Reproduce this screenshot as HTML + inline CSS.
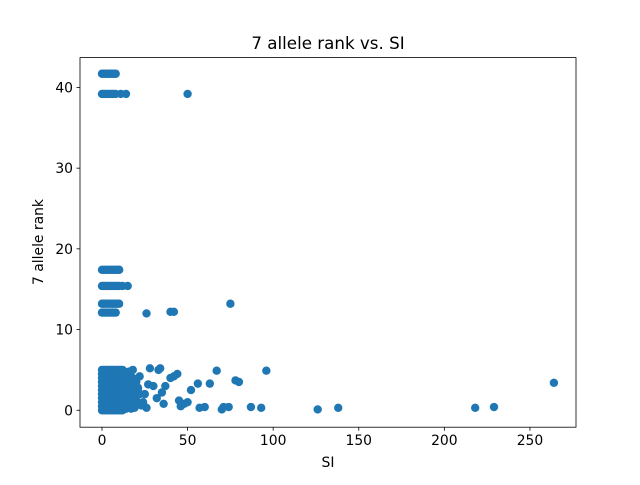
<!DOCTYPE html>
<html><head><meta charset="utf-8"><style>
body{margin:0;background:#fff;font-family:"Liberation Sans","DejaVu Sans",sans-serif}
svg text{font-family:"DejaVu Sans","Liberation Sans",sans-serif;font-size:13.9px;fill:#000}
</style></head><body>
<svg id="chart" width="640" height="480" xmlns="http://www.w3.org/2000/svg">
<rect width="640" height="480" fill="#fff"/>
<g id="pts"></g>
<rect x="80" y="57.6" width="496" height="369.6" fill="none" stroke="#000" stroke-width="0.8"/>
<g id="xt"></g>
<g id="yt"></g>
<text x="328" y="49" text-anchor="middle" style="font-size:16.7px">7 allele rank vs. SI</text>
<text x="328" y="467" text-anchor="middle">SI</text>
<text transform="translate(43,242) rotate(-90)" text-anchor="middle">7 allele rank</text>
</svg>
<script>
const xTicks=[0,50,100,150,200,250];
const yTicks=[0,10,20,30,40];
const topXs=[0,1,2,3,4,5,6,7,8,9,10];
const topYs=[41.7,39.2,17.4,15.4,13.2,12.1];
const extraX=[11,14,50,10,12,15,75,26,40,42,26,27,28,30,32,33,34,35,36,37,40,42,44,45,46,48,50,52,56,57,60,63,67,70,71,74,78,80,87,93,96,126,138,218,229,264,14,16,18,20,22,24,15,17,19,21,23,25,13,18,22,13,14,15,16,17,13,14,15,16,13,14,15,16,17,18,19,20,21,14,16,18,20];
const extraY=[39.2,39.2,39.2,17.4,15.4,15.4,13.2,12.0,12.2,12.2,0.3,3.2,5.2,3.0,1.5,5.0,5.2,2.2,0.8,3.0,4.0,4.2,4.5,1.2,0.5,0.8,1.0,2.5,3.3,0.3,0.4,3.3,4.9,0.1,0.4,0.4,3.7,3.5,0.4,0.3,4.9,0.1,0.3,0.3,0.4,3.4,4.5,4.8,5.0,3.5,2.0,1.0,0.5,0.2,1.5,2.8,0.6,2.0,3.8,2.2,4.2,0.5,1.2,2.0,3.0,4.0,2.6,3.6,4.2,1.0,4.8,0.2,2.4,0.8,1.6,3.2,0.3,1.2,2.6,1.8,3.3,4.0,0.7];
const denseXs=[0,1,2,3,4,5,6,7,8,9,10,11,12];
const denseYs=[0,0.5,1,1.5,2,2.5,3,3.5,4,4.5,5];
const X0=80,X1=576,Y0=427.2,Y1=57.6,xmin=-12.85,xmax=276.9,ymin=-2.1,ymax=43.7;
const sx=v=>X0+(v-xmin)/(xmax-xmin)*(X1-X0);
const sy=v=>Y0-(v-ymin)/(ymax-ymin)*(Y0-Y1);
const ns="http://www.w3.org/2000/svg";
const g=document.getElementById('pts');
function dot(x,y){const c=document.createElementNS(ns,'circle');
c.setAttribute('cx',sx(x));c.setAttribute('cy',sy(y));c.setAttribute('r',4.2);c.setAttribute('fill','#1f77b4');


g.appendChild(c);}
topYs.forEach(y=>topXs.forEach(x=>{if(!(y===41.7&&x>8)&&!(y===39.2&&x>8)&&!(y===12.1&&x>8))dot(x,y);}));
denseYs.forEach(y=>denseXs.forEach(x=>dot(x,y)));
extraX.forEach((x,i)=>dot(x,extraY[i]));
const xt=document.getElementById('xt'),yt=document.getElementById('yt');
xTicks.forEach(t=>{const l=document.createElementNS(ns,'line');l.setAttribute('x1',sx(t));l.setAttribute('x2',sx(t));l.setAttribute('y1',Y0);l.setAttribute('y2',Y0+3.5);l.setAttribute('stroke','#000');l.setAttribute('stroke-width','0.8');


xt.appendChild(l);
const tx=document.createElementNS(ns,'text');tx.setAttribute('x',sx(t));tx.setAttribute('y',Y0+18);tx.setAttribute('text-anchor','middle');tx.textContent=t;


xt.appendChild(tx);});
yTicks.forEach(t=>{const l=document.createElementNS(ns,'line');l.setAttribute('x1',X0-3.5);l.setAttribute('x2',X0);l.setAttribute('y1',sy(t));l.setAttribute('y2',sy(t));l.setAttribute('stroke','#000');l.setAttribute('stroke-width','0.8');


yt.appendChild(l);
const tx=document.createElementNS(ns,'text');tx.setAttribute('x',X0-7);tx.setAttribute('y',sy(t)+5);tx.setAttribute('text-anchor','end');tx.textContent=t;


yt.appendChild(tx);});
</script>
</body></html>
